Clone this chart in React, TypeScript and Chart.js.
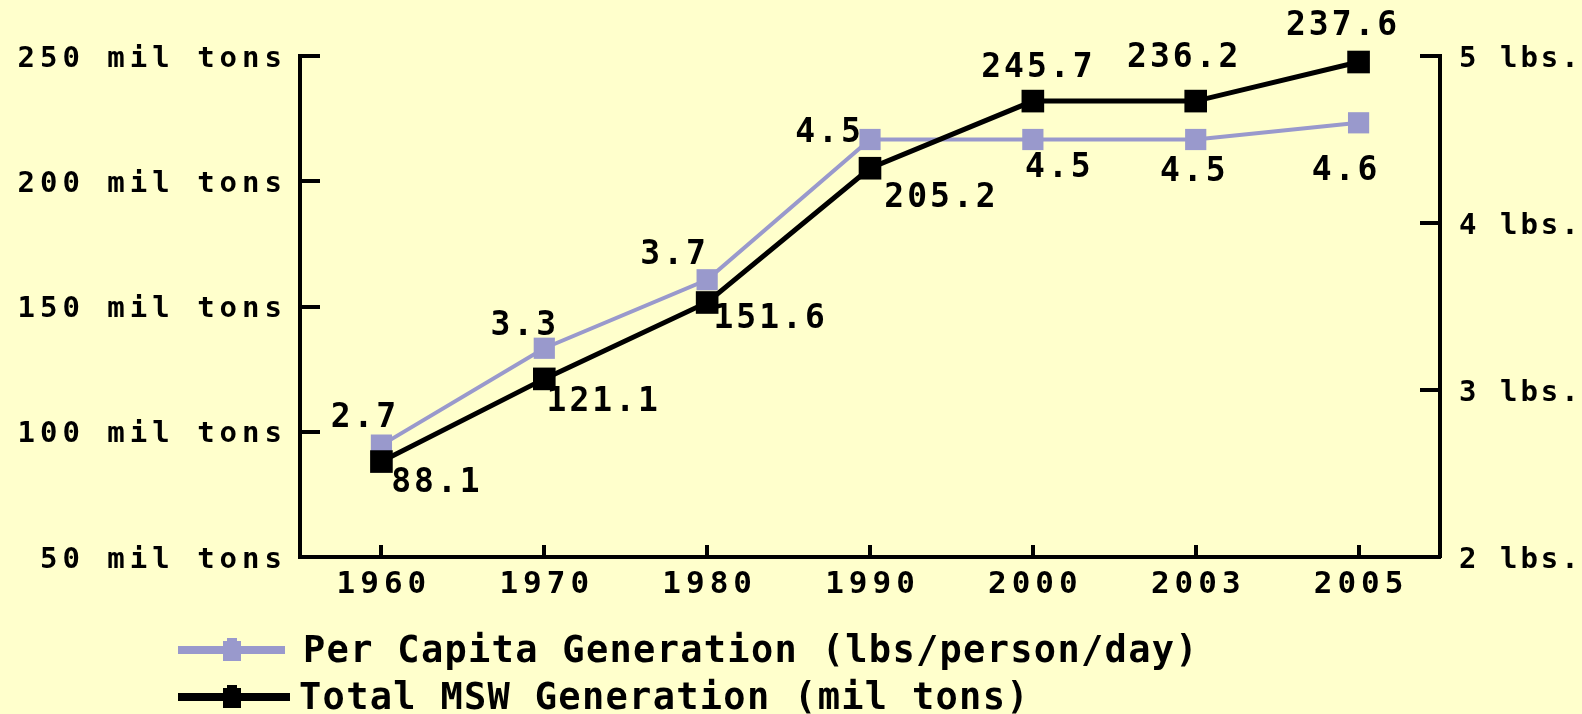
import React, { useEffect, useRef } from "react";
import { Chart, registerables } from "chart.js";

Chart.register(...registerables);

// ---- data ----
const years = ["1960", "1970", "1980", "1990", "2000", "2003", "2005"];
const perCapitaValues = [2.67, 3.25, 3.66, 4.5, 4.5, 4.5, 4.6];
const perCapitaLabels = ["2.7", "3.3", "3.7", "4.5", "4.5", "4.5", "4.6"];
const totalValues = [88.1, 121.1, 151.6, 205.2, 232, 232, 247.6];
const totalLabels = ["88.1", "121.1", "151.6", "205.2", "245.7", "236.2", "237.6"];
const leftTickValues = [50, 100, 150, 200, 250];
const leftTickLabels = ["50 mil tons", "100 mil tons", "150 mil tons", "200 mil tons", "250 mil tons"];
const rightTickValues = [2, 3, 4, 5];
const rightTickLabels = ["2 lbs.", "3 lbs.", "4 lbs.", "5 lbs."];
const perCapitaName = "Per Capita Generation (lbs/person/day)";
const totalName = "Total MSW Generation (mil tons)";

// ---- styles ----
const BG = "#FFFFCC";
const PURPLE = "#9999CC";
const BLACK = "#000000";
const FONT = '"DejaVu Sans Mono", monospace';

// text-centre offsets of the value labels relative to their point
const perCapitaLabelOffsets = [[-18, -30], [-21, -25], [-34, -28], [-42, -10], [25, 25], [-3, 29], [-14, 45]];
const totalLabelOffsets = [[54, 18], [58, 20], [62, 13], [70, 27], [4, -36], [-13, -46], [-17, -39]];

function drawText(
  ctx: CanvasRenderingContext2D,
  text: string,
  x: number,
  cy: number,
  align: "left" | "right" | "center",
  size: number,
  ls: number,
  weight = "bold"
) {
  ctx.font = `${weight} ${size}px ${FONT}`;
  ctx.textBaseline = "alphabetic";
  ctx.textAlign = "left";
  const chars = Array.from(text);
  const widths = chars.map((c) => ctx.measureText(c).width);
  const total = widths.reduce((a, b) => a + b, 0) + ls * (chars.length - 1);
  let x0 = align === "left" ? x : align === "right" ? x - total : x - total / 2;
  const base = cy + (size * 0.729) / 2;
  chars.forEach((c, i) => {
    ctx.fillText(c, x0, base);
    x0 += widths[i] + ls;
  });
}

const customPlugin = {
  id: "customDraw",
  beforeDraw(chart: any) {
    const ctx = chart.ctx;
    ctx.save();
    ctx.fillStyle = BG;
    ctx.fillRect(0, 0, chart.width, chart.height);
    ctx.restore();
  },
  afterDraw(chart: any) {
    const ctx: CanvasRenderingContext2D = chart.ctx;
    const { left, right, bottom } = chart.chartArea;
    const xs = chart.scales.x;
    const yL = chart.scales.y;
    const yR = chart.scales.y1;
    ctx.save();
    ctx.strokeStyle = BLACK;
    ctx.fillStyle = BLACK;
    ctx.lineWidth = 4;
    ctx.lineCap = "butt";

    // inward tick marks
    leftTickValues.forEach((v) => {
      const y = Math.round(yL.getPixelForValue(v));
      ctx.beginPath();
      ctx.moveTo(left, y);
      ctx.lineTo(left + 20, y);
      ctx.stroke();
    });
    rightTickValues.forEach((v) => {
      const y = Math.round(yR.getPixelForValue(v));
      ctx.beginPath();
      ctx.moveTo(right - 20, y);
      ctx.lineTo(right, y);
      ctx.stroke();
    });
    years.forEach((_, i) => {
      const x = Math.round(xs.getPixelForValue(i));
      ctx.beginPath();
      ctx.moveTo(x, bottom);
      ctx.lineTo(x, bottom - 12);
      ctx.stroke();
    });

    // tick labels
    leftTickValues.forEach((v, i) => {
      drawText(ctx, leftTickLabels[i], left - 18, yL.getPixelForValue(v), "right", 29, 5);
    });
    rightTickValues.forEach((v, i) => {
      drawText(ctx, rightTickLabels[i], right + 19, yR.getPixelForValue(v), "left", 29, 3);
    });
    years.forEach((yr, i) => {
      drawText(ctx, yr, xs.getPixelForValue(i), bottom + 25, "center", 31, 5);
    });

    // value labels
    perCapitaValues.forEach((v, i) => {
      const px = xs.getPixelForValue(i);
      const py = yR.getPixelForValue(v);
      const [dx, dy] = perCapitaLabelOffsets[i];
      drawText(ctx, perCapitaLabels[i], px + dx, py + dy, "center", 33, 3);
    });
    totalValues.forEach((v, i) => {
      const px = xs.getPixelForValue(i);
      const py = yL.getPixelForValue(v);
      const [dx, dy] = totalLabelOffsets[i];
      drawText(ctx, totalLabels[i], px + dx, py + dy, "center", 33, 3);
    });

    // legend
    const legendItems = [
      { name: chart.data.datasets[1].label, color: PURPLE, cy: 650, lineEnd: 285, textX: 303 },
      { name: chart.data.datasets[0].label, color: BLACK, cy: 697, lineEnd: 290, textX: 299 },
    ];
    legendItems.forEach((it) => {
      ctx.fillStyle = it.color;
      ctx.fillRect(178, it.cy - 4, it.lineEnd - 178, 8);
      ctx.fillRect(223, it.cy - 9, 18, 20);
      ctx.fillRect(227, it.cy - 12, 10, 4);
      ctx.fillStyle = BLACK;
      drawText(ctx, it.name, it.textX, it.cy - 1.5, "left", 37, 1.3);
    });

    ctx.restore();
  },
};

export default function App() {
  const canvasRef = useRef<HTMLCanvasElement | null>(null);

  useEffect(() => {
    document.body.style.margin = "0";
    document.body.style.background = BG;
    const canvas = canvasRef.current;
    if (!canvas) return;
    const axisBorder = { display: true, color: BLACK, width: 4 };
    const chart = new Chart(canvas, {
      type: "line",
      data: {
        labels: years,
        datasets: [
          {
            label: totalName,
            data: totalValues,
            yAxisID: "y",
            borderColor: BLACK,
            backgroundColor: BLACK,
            borderWidth: 5,
            pointStyle: "rect",
            pointRadius: 16,
            pointBorderWidth: 0,
            pointBackgroundColor: BLACK,
            tension: 0,
            order: 0,
            clip: false,
          },
          {
            label: perCapitaName,
            data: perCapitaValues,
            yAxisID: "y1",
            borderColor: PURPLE,
            backgroundColor: PURPLE,
            borderWidth: 4,
            pointStyle: "rect",
            pointRadius: 15,
            pointBorderWidth: 0,
            pointBackgroundColor: PURPLE,
            tension: 0,
            order: 1,
            clip: false,
          },
        ],
      },
      options: {
        responsive: false,
        animation: false,
        devicePixelRatio: 1,
        layout: { padding: { left: 300, right: 142, top: 56, bottom: 157 } },
        plugins: { legend: { display: false }, tooltip: { enabled: false } },
        scales: {
          x: {
            type: "category",
            offset: true,
            ticks: { display: false },
            grid: { display: false, drawTicks: false },
            border: axisBorder,
            afterFit: (s: any) => {
              s.height = 0;
            },
          },
          y: {
            position: "left",
            min: 50,
            max: 250,
            ticks: { display: false, stepSize: 50 },
            grid: { display: false, drawTicks: false },
            border: axisBorder,
            afterFit: (s: any) => {
              s.width = 0;
            },
          },
          y1: {
            position: "right",
            min: 2,
            max: 5,
            ticks: { display: false, stepSize: 1 },
            grid: { display: false, drawTicks: false },
            border: axisBorder,
            afterFit: (s: any) => {
              s.width = 0;
            },
          },
        },
      } as any,
      plugins: [customPlugin],
    });
    return () => chart.destroy();
  }, []);

  return (
    <canvas
      ref={canvasRef}
      width={1582}
      height={714}
      style={{ position: "absolute", left: 0, top: 0, width: 1582, height: 714 }}
    />
  );
}
